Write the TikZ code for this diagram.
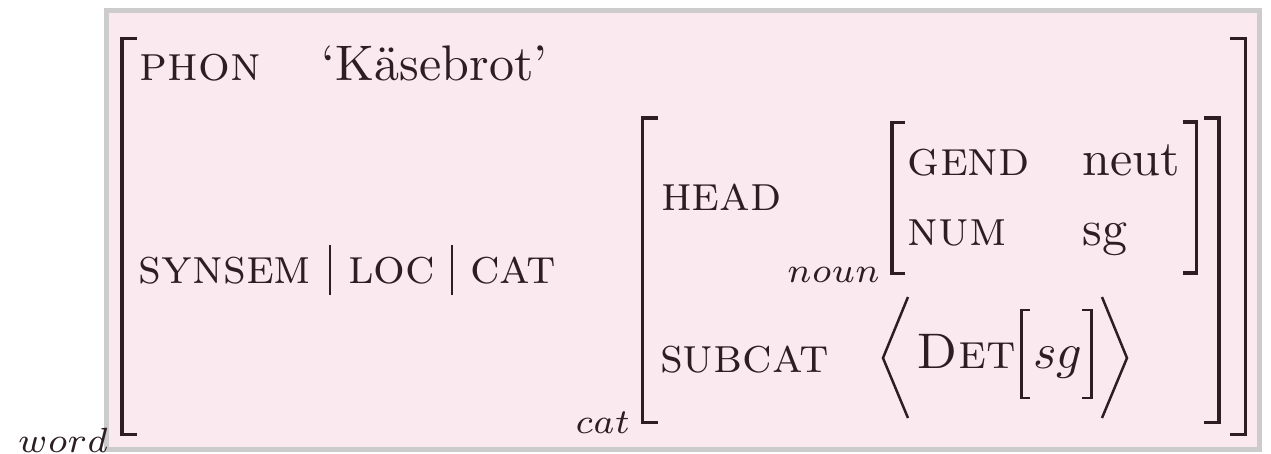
\documentclass[tikz,border=0pt]{standalone}
\begin{document}
\definecolor{ink}{RGB}{45,30,36}
\definecolor{boxfill}{RGB}{251,233,240}
\definecolor{boxline}{RGB}{204,204,204}
\begin{tikzpicture}[x=0.2pt,y=-0.2pt,
  every node/.style={inner sep=0pt, outer sep=0pt, text=ink, font=\fontsize{10}{12}\selectfont},
  feat/.style={anchor=base west},
  sortlbl/.style={anchor=base east},
  brk/.style={draw=ink, line width=0.7pt, miter limit=10, line join=miter},
  smallbrk/.style={draw=ink, line width=0.54pt, line join=miter},
  angle/.style={draw=ink, line width=0.5pt, line join=miter},
  pathbar/.style={draw=ink, line width=0.4pt}]
\useasboundingbox (0,0) rectangle (1271,454);
% frame
\draw[draw=boxline, fill=boxfill, line width=1pt] (107,10.5) rectangle (1259.5,449);

% outer matrix brackets
\draw[brk] (137,38.5) -- (122,38.5) -- (122,434.5) -- (137,434.5);
\draw[brk] (1230,38.5) -- (1245.5,38.5) -- (1245.5,434.5) -- (1230,434.5);
% cat brackets
\draw[brk] (658,118) -- (642.5,118) -- (642.5,422.5) -- (658,422.5);
\draw[brk] (1204,118) -- (1219,118) -- (1219,422.5) -- (1204,422.5);
% noun brackets
\draw[brk] (905,122.5) -- (892,122.5) -- (892,273.5) -- (905,273.5);
\draw[brk] (1183,122) -- (1196.5,122) -- (1196.5,273) -- (1183,273);

% outer matrix
\node[feat] (phon) at (140,80) {\textsc{phon}};
\node[feat] (kaese) at (322,80) {‘Käsebrot’};
\node[feat] (synsem) at (139,283) {\textsc{synsem}};
\node[feat] (loc) at (348,283) {\textsc{loc}};
\node[feat] (catf) at (470,283) {\textsc{cat}};
\draw[pathbar] (330,245) -- (330,295);
\draw[pathbar] (452,245) -- (452,295);
\node[sortlbl] (word) at (108,452) {$\scriptstyle word$};

% cat matrix
\node[feat] (head) at (661,210) {\textsc{head}};
\node[feat] (subcat) at (660,372) {\textsc{subcat}};
\node[sortlbl] (catsort) at (630,433) {$\scriptstyle cat$};

% noun matrix
\node[feat] (gend) at (908,175) {\textsc{gend}};
\node[feat] (neut) at (1083,175) {neut};
\node[feat] (num) at (908,245) {\textsc{num}};
\node[feat] (sgval) at (1083,245) {sg};
\node[sortlbl] (nounsort) at (880,282) {$\scriptstyle noun$};

% subcat list
\draw[angle] (908,297) -- (883,358) -- (908,418);
\node[feat] (det) at (917,368) {\textsc{Det}};
\draw[smallbrk] (1030,310) -- (1021.5,310) -- (1021.5,398) -- (1030,398);
\node[feat] (sgarg) at (1033,368) {$sg$};
\draw[smallbrk] (1082,310) -- (1091.5,310) -- (1091.5,398) -- (1082,398);
\draw[angle] (1102,297) -- (1127,358) -- (1102,418);
\end{tikzpicture}
\end{document}
